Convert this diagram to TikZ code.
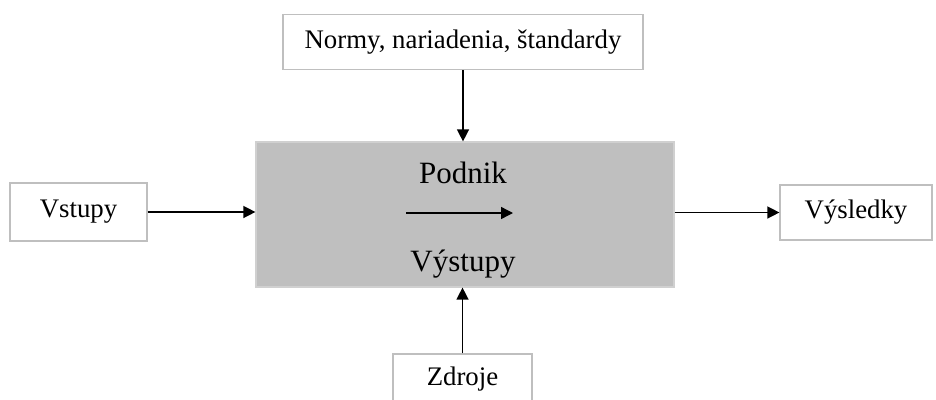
\documentclass[tikz,border=0pt]{standalone}
\usepackage{fontspec}
\setmainfont{Liberation Serif}
\usetikzlibrary{arrows.meta}
\definecolor{boxline}{HTML}{BFBFBF}
\definecolor{mainfill}{HTML}{BFBFBF}
\definecolor{mainline}{HTML}{D0D0D0}
\begin{document}
\begin{tikzpicture}[x=1pt,y=-1pt,
  wbox/.style={draw=boxline,line width=1.2pt,fill=white,inner sep=0pt,font=\fontsize{26.8}{30}\selectfont},
  conn/.style={line width=1.4pt,-{Triangle[length=12pt,width=12pt]}},
  bigtext/.style={font=\fontsize{31}{34}\selectfont,inner sep=0pt}]
\useasboundingbox (0,0) rectangle (936,399);
\clip (0,0) rectangle (936,399);
\node[wbox,minimum width=360pt,minimum height=55pt] (top) at (463,42) {Normy, nariadenia, štandardy};
\node[wbox,minimum width=137pt,minimum height=58pt] (vst) at (78.5,212) {Vstupy};
\node[draw=mainline,line width=1.2pt,fill=mainfill,minimum width=418pt,minimum height=145pt,inner sep=0pt] (main) at (465,214.5) {};
\node[wbox,minimum width=152pt,minimum height=55pt] (vys) at (856,212.5) {Výsledky};
\node[wbox,minimum width=139pt,minimum height=50pt] (zdr) at (462.5,379) {Zdroje};
\node[bigtext] (podnik) at (463,173) {Podnik};
\node[bigtext] (vystupy) at (463,264) {Výstupy};
\coordinate (ia) at (406,213);
\coordinate (ib) at (513,213);
\draw[conn] (top.south) -- (top.south |- main.north);
\draw[conn] (vst.east) -- (vst.east -| main.west);
\draw[conn] (main.east |- vys.west) -- (vys.west);
\draw[conn] (zdr.north) -- (zdr.north |- main.south);
\draw[conn] (ia) -- (ib);
\end{tikzpicture}
\end{document}
